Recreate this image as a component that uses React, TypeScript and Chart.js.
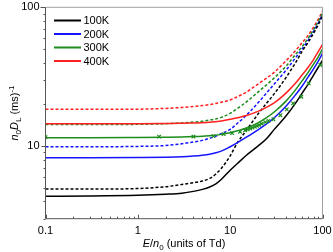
import React, { useEffect, useRef } from 'react';
import { Chart, registerables } from 'chart.js';

Chart.register(...registerables);

// ---- data ----
const E = [0.1, 0.3, 1, 2, 3, 4, 5, 6, 7, 8, 10, 12, 15, 20, 25, 30, 40, 50, 60, 70, 80, 90, 100];

const solid100K = [4.36, 4.37, 4.42, 4.5, 4.58, 4.72, 4.88, 5.08, 5.35, 5.75, 6.7, 7.5, 8.6, 10.0, 11.4, 13.2, 16.4, 20, 24, 28, 32.5, 37, 41.5];
const solid200K = [8.25, 8.25, 8.28, 8.32, 8.38, 8.48, 8.6, 8.75, 8.95, 9.2, 9.9, 10.6, 11.6, 13.1, 14.5, 16.0, 19.3, 23, 27, 31.5, 36, 41, 46.5];
const solid300K = [11.5, 11.5, 11.55, 11.6, 11.65, 11.72, 11.8, 11.9, 12.0, 12.15, 12.5, 12.9, 13.5, 14.7, 16.1, 17.6, 21, 25, 29.5, 34, 39, 44, 50];
const solid400K = [14.5, 14.5, 14.5, 14.55, 14.6, 14.68, 14.75, 14.85, 15.0, 15.15, 15.6, 16.0, 16.6, 17.8, 19.1, 20.5, 24, 28, 32.5, 37, 42, 48, 54];

const dashed100K = [4.9, 4.9, 4.95, 5.1, 5.3, 5.45, 5.6, 5.85, 6.3, 6.9, 8.5, 10.6, 13.0, 17.0, 20.5, 23.8, 31, 39, 48, 56, 65, 75, 87];
const dashed200K = [9.9, 9.9, 9.95, 10.1, 10.4, 10.7, 11.0, 11.4, 11.8, 12.3, 13.2, 14.6, 16.7, 20.5, 24.3, 28, 35, 42.5, 50, 58, 67, 77, 89];
const dashed300K = [14.3, 14.3, 14.35, 14.5, 14.7, 14.9, 15.1, 15.4, 15.7, 16.1, 17.2, 18.7, 20.8, 24.5, 27.8, 31, 37.5, 45, 52, 60, 69, 79, 91];
const dashed400K = [18.4, 18.4, 18.45, 18.7, 19.0, 19.3, 19.6, 19.9, 20.3, 20.7, 21.5, 22.7, 24.5, 28, 31, 34, 41, 48, 55.5, 63, 72, 82, 94];

const expE = [0.1, 1.7, 4, 6.6, 8.5, 10.5, 12.8, 14.5, 15.5, 16.5, 17.5, 18.5, 19.5, 20.5, 22, 24, 26, 29.4, 35, 41, 48, 59, 71, 95];
const exp300K = [11.6, 11.7, 11.7, 11.8, 12.2, 12.4, 12.7, 13.0, 13.2, 13.4, 13.6, 13.8, 14.0, 14.2, 14.5, 14.9, 15.2, 15.6, 16.7, 18.4, 20.3, 22.7, 28.3, 38.4];

const legendLabels = ['100K', '200K', '300K', '400K'];
const seriesColors = ['#000000', '#1414ff', '#1c8c1c', '#ff2020'];

const xTicks = [0.1, 1, 10, 100];
const xTickLabels = ['0.1', '1', '10', '100'];
const yTicks = [10, 100];
const yTickLabels = ['10', '100'];

const FONT = '"Liberation Sans", Arial, sans-serif';

type Seg = { t: string; italic?: boolean; size?: number; dy?: number };

function drawRich(ctx: CanvasRenderingContext2D, segs: Seg[], cx: number, baseY: number) {
  const fontOf = (s: Seg) => `${s.italic ? 'italic ' : ''}${s.size || 11}px ${FONT}`;
  const widths = segs.map((s) => {
    ctx.font = fontOf(s);
    return ctx.measureText(s.t).width;
  });
  const total = widths.reduce((a, b) => a + b, 0);
  let x = cx - total / 2;
  ctx.textAlign = 'left';
  ctx.textBaseline = 'alphabetic';
  segs.forEach((s, i) => {
    ctx.font = fontOf(s);
    ctx.fillText(s.t, x, baseY + (s.dy || 0));
    x += widths[i];
  });
}

const decorPlugin = {
  id: 'decor',
  afterDraw(chart: any) {
    const { ctx, chartArea: a, scales } = chart;
    const xs = scales.x;
    const ys = scales.y;
    ctx.save();

    // frame: top/right light grey, left/bottom darker
    ctx.lineWidth = 1;
    ctx.strokeStyle = '#a0a0a0';
    ctx.beginPath();
    ctx.moveTo(a.left, a.top);
    ctx.lineTo(a.right, a.top);
    ctx.lineTo(a.right, a.bottom);
    ctx.stroke();
    ctx.strokeStyle = '#555555';
    ctx.beginPath();
    ctx.moveTo(a.left, a.top);
    ctx.lineTo(a.left, a.bottom);
    ctx.lineTo(a.right, a.bottom);
    ctx.stroke();

    // x ticks (inward)
    ctx.strokeStyle = '#555555';
    ctx.beginPath();
    [0.1, 1, 10].forEach((d) => {
      for (let m = 1; m <= 9; m++) {
        const v = m * d;
        const px = Math.round(xs.getPixelForValue(v)) + 0.5;
        const len = m === 1 ? 4 : 2;
        ctx.moveTo(px, a.bottom);
        ctx.lineTo(px, a.bottom - len);
      }
    });
    {
      const px = Math.round(xs.getPixelForValue(100)) + 0.5;
      ctx.moveTo(px, a.bottom);
      ctx.lineTo(px, a.bottom - 4);
    }
    ctx.stroke();

    // y ticks (outward)
    ctx.beginPath();
    [1, 10].forEach((d) => {
      for (let m = 1; m <= 9; m++) {
        const v = m * d;
        if (v < 3 || v > 100) continue;
        const py = Math.round(ys.getPixelForValue(v)) + 0.5;
        const len = m === 1 ? 4 : 2;
        ctx.moveTo(a.left, py);
        ctx.lineTo(a.left - len, py);
      }
    });
    {
      const py = Math.round(ys.getPixelForValue(100)) + 0.5;
      ctx.moveTo(a.left, py);
      ctx.lineTo(a.left - 5, py);
    }
    ctx.stroke();

    // tick labels
    ctx.fillStyle = '#000';
    ctx.font = `11px ${FONT}`;
    ctx.textAlign = 'center';
    ctx.textBaseline = 'middle';
    xTicks.forEach((v, i) => {
      ctx.fillText(xTickLabels[i], xs.getPixelForValue(v), a.bottom + 12.5);
    });
    ctx.textAlign = 'right';
    yTicks.forEach((v, i) => {
      ctx.fillText(yTickLabels[i], a.left - 6, ys.getPixelForValue(v));
    });

    // x title
    drawRich(
      ctx,
      [
        { t: 'E', italic: true },
        { t: '/' },
        { t: 'n', italic: true },
        { t: '0', size: 8, dy: 2.5 },
        { t: ' (units of Td)' },
      ],
      (a.left + a.right) / 2,
      a.bottom + 28.5
    );

    // y title (rotated)
    ctx.save();
    ctx.translate(14, (a.top + a.bottom) / 2);
    ctx.rotate(-Math.PI / 2);
    drawRich(
      ctx,
      [
        { t: 'n', italic: true },
        { t: '0', size: 8, dy: 2.5 },
        { t: 'D', italic: true },
        { t: 'L', size: 8, dy: 2.5 },
        { t: ' (ms)' },
        { t: '-1', size: 8, dy: -4.5 },
      ],
      0,
      4
    );
    ctx.restore();

    // legend
    ctx.font = `11px ${FONT}`;
    ctx.textAlign = 'left';
    ctx.textBaseline = 'middle';
    legendLabels.forEach((lab, i) => {
      const y = 20.5 + i * 13.5;
      ctx.strokeStyle = seriesColors[i];
      ctx.lineWidth = 2;
      ctx.beginPath();
      ctx.moveTo(54, y);
      ctx.lineTo(81, y);
      ctx.stroke();
      ctx.fillStyle = '#000';
      ctx.fillText(lab, 83.5, y + 0.5);
    });

    ctx.restore();
  },
};

function pts(ys: number[], xs: number[] = E) {
  return xs.map((x, i) => ({ x, y: ys[i] }));
}

export default function App() {
  const ref = useRef<HTMLCanvasElement | null>(null);

  useEffect(() => {
    document.body.style.margin = '0';
    if (!ref.current) return;
    const solids = [solid100K, solid200K, solid300K, solid400K];
    const dashes = [dashed100K, dashed200K, dashed300K, dashed400K];
    const datasets: any[] = [
      {
        label: 'exp 300K',
        data: pts(exp300K, expE),
        showLine: false,
        pointStyle: 'crossRot',
        pointRadius: 2.5,
        pointBorderWidth: 1.2,
        borderColor: seriesColors[2],
        backgroundColor: seriesColors[2],
      },
    ];
    solids.forEach((s, i) => {
      datasets.push({
        label: legendLabels[i],
        data: pts(s),
        borderColor: seriesColors[i],
        borderWidth: 1.5,
        pointRadius: 0,
        cubicInterpolationMode: 'monotone',
        fill: false,
      });
    });
    dashes.forEach((s, i) => {
      datasets.push({
        label: legendLabels[i] + ' dashed',
        data: pts(s),
        borderColor: seriesColors[i],
        borderWidth: 1.5,
        borderDash: [3, 2],
        pointRadius: 0,
        cubicInterpolationMode: 'monotone',
        fill: false,
      });
    });

    const chart = new Chart(ref.current, {
      type: 'line',
      data: { datasets },
      options: {
        animation: false,
        responsive: false,
        devicePixelRatio: 1,
        layout: { padding: { top: 7.3, right: 10.5, left: 0, bottom: 0 } },
        plugins: { legend: { display: false }, tooltip: { enabled: false } },
        scales: {
          x: {
            type: 'logarithmic',
            min: 0.1,
            max: 100,
            grid: { display: false },
            border: { display: false },
            ticks: { display: false },
            afterFit: (s: any) => {
              s.height = 33.3;
            },
          },
          y: {
            type: 'logarithmic',
            min: 3,
            max: 100,
            grid: { display: false },
            border: { display: false },
            ticks: { display: false },
            afterFit: (s: any) => {
              s.width = 45.5;
            },
          },
        },
      },
      plugins: [decorPlugin],
    } as any);
    return () => chart.destroy();
  }, []);

  return (
    <canvas
      ref={ref}
      width={333}
      height={252}
      style={{ display: 'block', width: 333, height: 252 }}
    />
  );
}
